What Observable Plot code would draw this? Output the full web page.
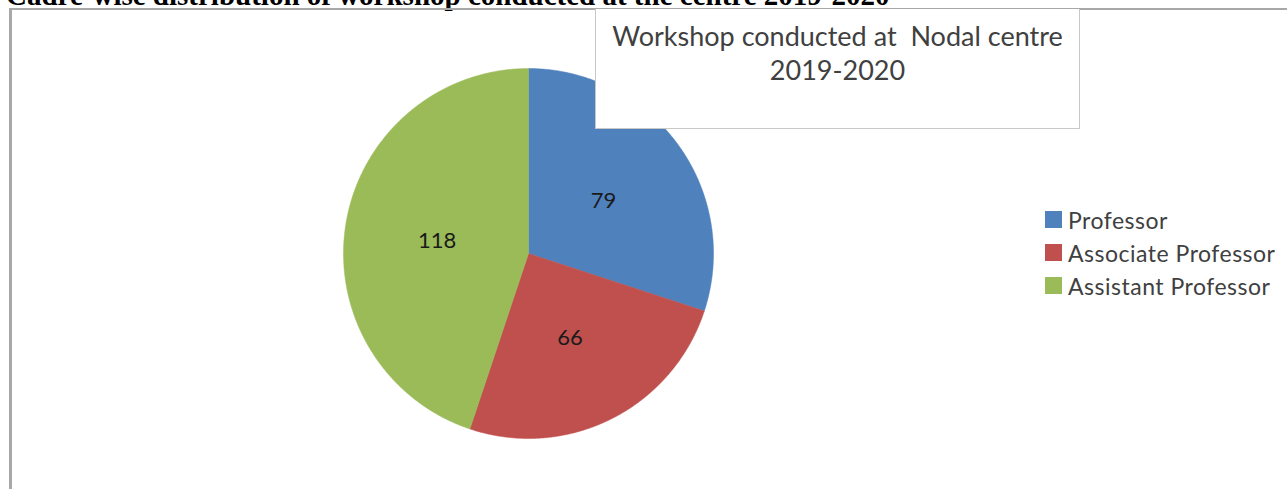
<!DOCTYPE html>
<html>
<head>
<meta charset="utf-8">
<script src="https://cdn.jsdelivr.net/npm/d3@7"></script>
<script src="https://cdn.jsdelivr.net/npm/@observablehq/plot@0.6"></script>
<style>
  html, body { margin: 0; padding: 0; background: #fff; overflow: hidden; }
  #page { position: relative; width: 1287px; height: 489px; overflow: hidden; }
  #title { position: absolute; left: 6px; top: -19px; font: bold 29px "Liberation Serif", "Times New Roman", serif; line-height: 29px; white-space: nowrap; color: #000; }
  #frame { position: absolute; left: 9px; top: 8px; width: 1290px; height: 500px; border-left: 3px solid #a8a8a8; border-top: 2px solid #a8a8a8; box-sizing: border-box; }
  #chart { position: absolute; left: 0; top: 0; }
  #box { position: absolute; left: 595px; top: 9px; width: 485px; height: 120px; border: 1px solid #c8c8c8; border-top: none; box-sizing: border-box; background: #fff; text-align: center; font: 27px Lato, sans-serif; line-height: 34px; color: #404040; white-space: pre; padding-top: 10px; }
  #legend { position: absolute; left: 1045px; top: 203px; font: 23px Lato, sans-serif; letter-spacing: 0.5px; color: #404040; }
  .item { display: flex; align-items: center; height: 33px; white-space: nowrap; }
  .sw { width: 17px; height: 17px; margin-right: 6px; }
</style>
</head>
<body>
<div id="page">
  <div id="title"></div>
  <div id="frame"></div>
  <div id="chart"></div>
  <div id="box"></div>
  <div id="legend"></div>
</div>
<script>
const titleText = "Cadre-wise distribution of workshop conducted at the centre 2019-2020";
const boxTitle = ["Workshop conducted at  Nodal centre", "2019-2020"];
const categories = ["Professor", "Associate Professor", "Assistant Professor"];
const values = [79, 66, 118];
const colors = ["#4F81BD", "#C0504D", "#9BBB59"];

document.getElementById("title").textContent = titleText;
document.getElementById("box").textContent = boxTitle.join("\n");

const slices = d3.pie().sort(null).value(d => d.value)(categories.map((c, i) => ({category: c, value: values[i]})));

// polygon points for each slice (angles measured clockwise from 12 o'clock)
const pts = [];
slices.forEach(s => {
  const n = Math.max(2, Math.ceil((s.endAngle - s.startAngle) / 0.005));
  pts.push({category: s.data.category, x: 0, y: 0});
  for (let k = 0; k <= n; k++) {
    const a = s.startAngle + (s.endAngle - s.startAngle) * k / n;
    pts.push({category: s.data.category, x: Math.sin(a), y: Math.cos(a)});
  }
  pts.push({category: s.data.category, x: 0, y: 0});
});
const labels = slices.map(s => {
  const a = (s.startAngle + s.endAngle) / 2;
  return {label: String(s.data.value), x: 0.5 * Math.sin(a), y: 0.5 * Math.cos(a)};
});

const cx = 528, cy = 253, r = 185;
const chart = Plot.plot({
  width: 1287, height: 489,
  margin: 0,
  x: {domain: [-1, 1], range: [cx - r, cx + r], axis: null},
  y: {domain: [-1, 1], range: [cy + r, cy - r], axis: null},
  color: {domain: categories, range: colors},
  style: {background: "transparent", overflow: "visible"},
  marks: [
    Plot.line(pts, {x: "x", y: "y", z: "category", fill: "category", stroke: "category", strokeWidth: 0.5, curve: "linear"}),
    Plot.text(labels, {x: "x", y: "y", dy: 2, text: "label", fontSize: 22, fontFamily: "Lato, sans-serif", fill: "#1a1a1a"})
  ]
});
document.getElementById("chart").appendChild(chart);

const legend = document.getElementById("legend");
categories.forEach((c, i) => {
  const row = document.createElement("div");
  row.className = "item";
  const sw = document.createElement("div");
  sw.className = "sw";
  sw.style.background = colors[i];
  const t = document.createElement("span");
  t.textContent = c;
  row.appendChild(sw); row.appendChild(t);
  legend.appendChild(row);
});
</script>
</body>
</html>
